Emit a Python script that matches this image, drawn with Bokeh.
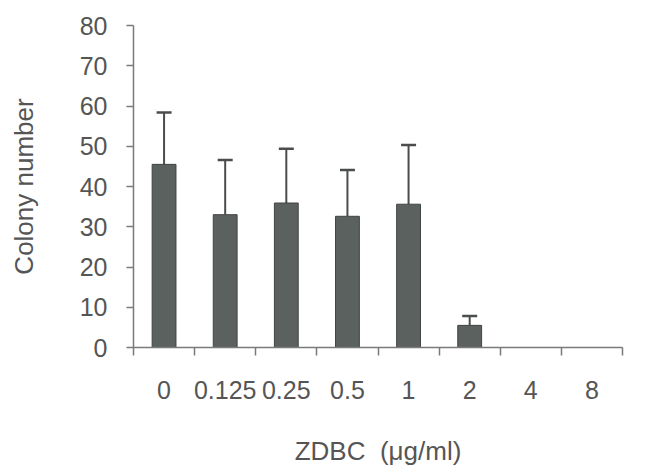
from bokeh.plotting import figure
from bokeh.models import ColumnDataSource, FixedTicker, Range1d, Whisker, TeeHead
from bokeh.embed import file_html
from bokeh.resources import INLINE

# ---- data ----
categories = ["0", "0.125", "0.25", "0.5", "1", "2", "4", "8"]
colony_mean = [45.5, 33.0, 35.9, 32.6, 35.6, 5.5, 0.0, 0.0]
colony_sd = [12.9, 13.6, 13.5, 11.5, 14.7, 2.3, 0.0, 0.0]
y_ticks = [0, 10, 20, 30, 40, 50, 60, 70, 80]

x_pos = [i + 0.5 for i in range(len(categories))]
bars = ColumnDataSource(dict(x=x_pos, top=colony_mean))

err_x = [x for x, m, s in zip(x_pos, colony_mean, colony_sd) if s > 0]
err_lo = [m for m, s in zip(colony_mean, colony_sd) if s > 0]
err_hi = [m + s for m, s in zip(colony_mean, colony_sd) if s > 0]
errs = ColumnDataSource(dict(base=err_x, lower=err_lo, upper=err_hi))

TEXT = "#555555"
AXIS = "#7a7a7a"
FONT = "Liberation Sans"

p = figure(width=672, height=473, output_backend="svg", toolbar_location=None,
           x_range=Range1d(0, len(categories)), y_range=Range1d(0, 80),
           min_border_left=133, min_border_right=50, min_border_top=25,
           min_border_bottom=126)
p.outline_line_color = None
p.xgrid.grid_line_color = None
p.ygrid.grid_line_color = None
p.background_fill_color = "white"
p.border_fill_color = "white"

p.vbar(x="x", top="top", width=0.39, bottom=0, source=bars,
       fill_color="#5b615e", line_color="#404442", line_width=1)

w = Whisker(base="base", lower="lower", upper="upper", source=errs,
            line_color="#4a4d4c", line_width=2,
            upper_head=TeeHead(size=15, line_color="#4a4d4c", line_width=2.5),
            lower_head=None)
p.add_layout(w)

# x axis: labels at category centres, ticks at boundaries (minor ticks)
xa = p.xaxis[0]
xa.ticker = FixedTicker(ticks=x_pos, minor_ticks=list(range(len(categories) + 1)))
xa.major_label_overrides = {x: c for x, c in zip(x_pos, categories)}
xa.major_tick_out = 0
xa.major_tick_in = 0
xa.minor_tick_out = 8
xa.minor_tick_in = 0
xa.minor_tick_line_color = AXIS
xa.minor_tick_line_width = 1.5
xa.axis_line_color = AXIS
xa.axis_line_width = 1.5
xa.major_label_text_font = FONT
xa.major_label_text_font_size = "25px"
xa.major_label_text_color = TEXT
xa.major_label_standoff = 25
xa.axis_label = "ZDBC\u00a0\u00a0(\u03bcg/ml)"
xa.axis_label_text_font = FONT
xa.axis_label_text_font_size = "26px"
xa.axis_label_text_font_style = "normal"
xa.axis_label_text_color = TEXT
xa.axis_label_standoff = 34

ya = p.yaxis[0]
ya.ticker = FixedTicker(ticks=y_ticks, minor_ticks=[])
ya.major_tick_out = 7
ya.major_tick_in = 0
ya.major_tick_line_color = AXIS
ya.major_tick_line_width = 1.5
ya.axis_line_color = AXIS
ya.axis_line_width = 1.5
ya.major_label_text_font = FONT
ya.major_label_text_font_size = "25px"
ya.major_label_text_color = TEXT
ya.major_label_standoff = 19
ya.axis_label = "Colony number"
ya.axis_label_text_font = FONT
ya.axis_label_text_font_size = "26px"
ya.axis_label_text_font_style = "normal"
ya.axis_label_text_color = TEXT
ya.axis_label_standoff = 38

open("out.html", "w").write(file_html(p, INLINE))
